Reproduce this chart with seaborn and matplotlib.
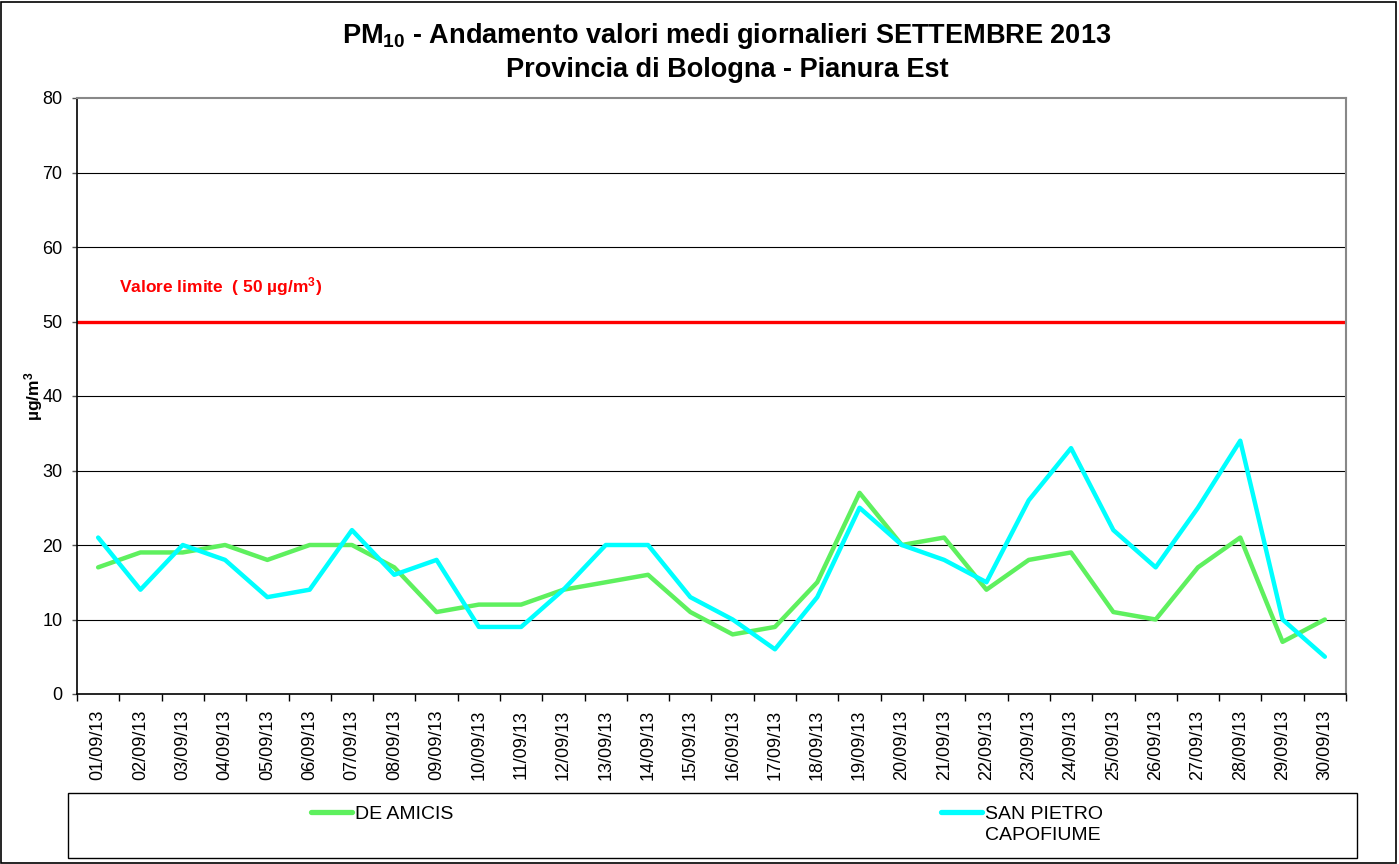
import pandas as pd
import matplotlib.pyplot as plt
import seaborn as sns
from matplotlib.patches import Rectangle
from matplotlib.ticker import FixedLocator

# dati giornalieri PM10 settembre 2013
giorni = ["%02d/09/13" % g for g in range(1, 31)]
de_amicis = [17, 19, 19, 20, 18, 20, 20, 17, 11, 12, 12, 14, 15, 16, 11,
             8, 9, 15, 27, 20, 21, 14, 18, 19, 11, 10, 17, 21, 7, 10]
san_pietro = [21, 14, 20, 18, 13, 14, 22, 16, 18, 9, 9, 14, 20, 20, 13,
              10, 6, 13, 25, 20, 18, 15, 26, 33, 22, 17, 25, 34, 10, 5]
stazioni = ["DE AMICIS", "SAN PIETRO\nCAPOFIUME"]
colori = ["#5ef05e", "#00ffff"]
limite = 50

sns.set_style("white")
plt.rcParams["font.family"] = ["Liberation Sans", "DejaVu Sans"]
plt.rcParams["text.color"] = "black"
plt.rcParams["axes.labelcolor"] = "black"
plt.rcParams["xtick.color"] = "black"
plt.rcParams["ytick.color"] = "black"
plt.rcParams["mathtext.fontset"] = "custom"
plt.rcParams["mathtext.rm"] = "Liberation Sans:bold"
plt.rcParams["mathtext.bf"] = "Liberation Sans:bold"
plt.rcParams["mathtext.default"] = "bf"

data = pd.DataFrame({
    "giorno": list(range(30)) * 2,
    "valore": de_amicis + san_pietro,
    "stazione": [stazioni[0]] * 30 + [stazioni[1]] * 30,
})

fig = plt.figure(figsize=(13.99, 8.64), dpi=100)
ax = fig.add_axes([77 / 1399, 1 - 694 / 864, 1269 / 1399, 596 / 864])

# griglia orizzontale
for v in range(10, 80, 10):
    ax.axhline(v, color="black", lw=0.8, zorder=1)

sns.lineplot(data=data, x="giorno", y="valore", hue="stazione",
             palette=colori, linewidth=3.2, ax=ax, legend=False, zorder=3)
ax.axhline(limite, color="#ff0000", lw=2.4, zorder=2)
ax.text(0.5, 53.9, "Valore limite  ( 50 µg/m$^3$)", color="#ff0000",
        fontsize=12.5, fontweight="bold", va="baseline")

ax.set_xlim(-0.5, 29.5)
ax.set_ylim(0, 80)
ax.set_yticks(range(0, 81, 10))
ax.set_xticks(range(30))
ax.set_xticklabels(giorni, rotation=90, fontsize=13)
ax.xaxis.set_minor_locator(FixedLocator([i - 0.5 for i in range(31)]))
ax.tick_params(axis="x", which="major", length=0, pad=11.5)
ax.tick_params(axis="x", which="minor", length=5, width=1, color="black",
               bottom=True, direction="out")
ax.tick_params(axis="y", length=3.6, width=1, color="#555555", left=True,
               direction="out", labelsize=13, pad=7)
ax.set_xlabel("")
ax.set_ylabel("µg/m$^3$", fontsize=12.5, fontweight="bold", labelpad=-2)

for lato in ["left", "bottom"]:
    ax.spines[lato].set_color("black")
    ax.spines[lato].set_linewidth(1.2)
for lato in ["top", "right"]:
    ax.spines[lato].set_color("#888888")
    ax.spines[lato].set_linewidth(1.5)

fig.text(727 / 1399, 1 - 36 / 864,
         "PM$_{10}$ - Andamento valori medi giornalieri SETTEMBRE 2013",
         ha="center", va="center", fontsize=19.5, fontweight="bold")
fig.text(727 / 1399, 1 - 70 / 864, "Provincia di Bologna - Pianura Est",
         ha="center", va="center", fontsize=19.5, fontweight="bold")

# legenda: riquadro, voci sulla prima riga, seconda riga a parte
fig.add_artist(Rectangle((68 / 1399, 1 - 858 / 864), 1289 / 1399, 65 / 864,
                         transform=fig.transFigure, fill=False,
                         edgecolor="black", lw=1))
etichette = [s.split("\n")[0] for s in stazioni]
maniglie = [plt.Line2D([], [], color=c, lw=3.8) for c in colori]
leg = fig.legend(maniglie, etichette, loc="center left",
                 bbox_to_anchor=(311 / 1399, 1 - 814 / 864), ncol=2,
                 frameon=False, fontsize=14, handlelength=2.1,
                 handletextpad=0.15, columnspacing=25.1,
                 borderaxespad=0, borderpad=0)
fig.canvas.draw()
bb = leg.get_texts()[1].get_window_extent()
fig.text(bb.x0 / fig.bbox.width, (bb.y0 - 21) / fig.bbox.height,
         stazioni[1].split("\n")[1], fontsize=14, ha="left", va="bottom")

# bordo esterno
fig.add_artist(Rectangle((0.001, 0.001), 0.997, 0.997,
                         transform=fig.transFigure, fill=False,
                         edgecolor="black", lw=1.2))

plt.savefig("out.png", dpi=100)
plt.close()
